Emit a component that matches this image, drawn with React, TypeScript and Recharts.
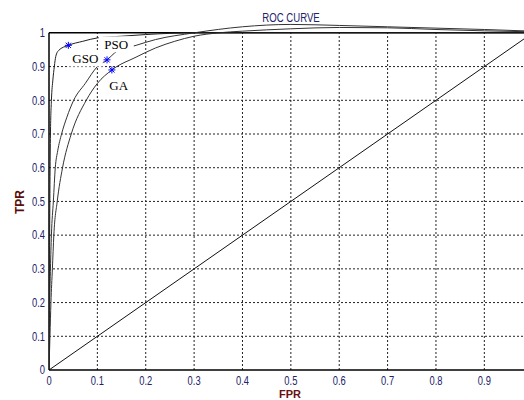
import {
  ComposedChart,
  Line,
  ReferenceLine,
  Scatter,
  XAxis,
  YAxis
} from "recharts";

// ROC curves
const gsoX = [0, 0.001, 0.002, 0.003, 0.005, 0.008, 0.011, 0.014, 0.02, 0.04, 0.07, 0.1, 0.15, 0.2, 0.3, 0.5, 0.7, 1];
const gsoY = [0, 0.3, 0.55, 0.7, 0.8, 0.86, 0.9, 0.93, 0.948, 0.963, 0.975, 0.985, 0.99, 0.995, 1.0, 1.0, 1.0, 1.0];

const psoX = [0, 0.001, 0.003, 0.005, 0.009, 0.013, 0.018, 0.026, 0.037, 0.051, 0.075, 0.1, 0.12, 0.14, 0.18, 0.22, 0.3, 0.4, 0.5, 0.6, 0.7, 0.8, 0.9, 1];
const psoY = [0, 0.15, 0.3, 0.4, 0.5, 0.6, 0.65, 0.7, 0.75, 0.8, 0.85, 0.9, 0.92, 0.945, 0.963, 0.98, 1.0, 1.018, 1.025, 1.022, 1.018, 1.014, 1.01, 1.005];

const gaX = [0, 0.002, 0.004, 0.007, 0.01, 0.017, 0.028, 0.046, 0.077, 0.1, 0.13, 0.18, 0.22, 0.26, 0.3, 0.35, 0.4, 0.5, 0.6, 0.7, 0.8, 0.9, 1];
const gaY = [0, 0.1, 0.2, 0.3, 0.4, 0.5, 0.6, 0.7, 0.8, 0.85, 0.89, 0.928, 0.955, 0.975, 0.99, 1.0, 1.005, 1.012, 1.016, 1.015, 1.01, 1.006, 1.003];

const chanceX = [0, 1];
const chanceY = [0, 1];

// operating points (blue asterisks) and their labels
const markerX = [0.04, 0.12, 0.13];
const markerY = [0.963, 0.92, 0.89];
const labelNames = ["GSO", "PSO", "GA"];
const labelX = [0.075, 0.139, 0.144];
const labelY = [0.924, 0.966, 0.845];

const xTicks = [0, 0.1, 0.2, 0.3, 0.4, 0.5, 0.6, 0.7, 0.8, 0.9];
const yTicks = [0, 0.1, 0.2, 0.3, 0.4, 0.5, 0.6, 0.7, 0.8, 0.9, 1];

const pts = (xs: number[], ys: number[]) => xs.map((x, i) => ({ x, y: ys[i] }));

const gso = pts(gsoX, gsoY);
const pso = pts(psoX, psoY);
const ga = pts(gaX, gaY);
const chance = pts(chanceX, chanceY);
const markers = pts(markerX, markerY);
const labels = labelNames.map((name, i) => ({ x: labelX[i], y: labelY[i], name }));

const sans = "'Liberation Sans', Arial, sans-serif";
const tickColor = "#22226b";
const gridDash = "2 2";

// matlab-ish condensed tick text
const XTick = (props: any) => {
  const { x, y, payload } = props;
  return (
    <g transform={`translate(${x},${y}) scale(0.78,1)`}>
      <text textAnchor="middle" dy="0.71em" fontFamily={sans} fontSize={12} fill={tickColor}>
        {payload.value}
      </text>
    </g>
  );
};

const YTick = (props: any) => {
  const { x, y, payload } = props;
  return (
    <g transform={`translate(${x},${y}) scale(0.78,1)`}>
      <text textAnchor="end" dy="0.355em" fontFamily={sans} fontSize={12} fill={tickColor}>
        {payload.value}
      </text>
    </g>
  );
};

const Asterisk = (props: any) => {
  const { cx, cy } = props;
  const r = 3.5;
  const d = 2.6;
  return (
    <g stroke="#0000ff" strokeWidth={1}>
      <line x1={cx - r} y1={cy} x2={cx + r} y2={cy} />
      <line x1={cx} y1={cy - r} x2={cx} y2={cy + r} />
      <line x1={cx - d} y1={cy - d} x2={cx + d} y2={cy + d} />
      <line x1={cx - d} y1={cy + d} x2={cx + d} y2={cy - d} />
    </g>
  );
};

const TextLabel = (props: any) => {
  const { cx, cy, payload } = props;
  const w = payload.name.length * 9 + 8;
  return (
    <g>
      <rect x={cx - w / 2} y={cy - 8} width={w} height={16} fill="#fff" />
      <text
        x={cx}
        y={cy}
        textAnchor="middle"
        dominantBaseline="central"
        fontFamily="'Liberation Serif', 'Times New Roman', serif"
        fontSize={13}
        fill="#000"
      >
        {payload.name}
      </text>
    </g>
  );
};

export default function App() {
  return (
    <div
      style={{
        position: "fixed",
        left: 0,
        top: 0,
        width: 524,
        height: 400,
        overflow: "hidden",
        background: "#fff"
      }}
    >
      <ComposedChart
        width={524}
        height={400}
        margin={{ top: 16, right: 0, left: 19, bottom: 0 }}
      >
        {yTicks.slice(1, -1).map((t) => (
          <ReferenceLine
            key={"h" + t}
            segment={[{ x: 0, y: t }, { x: 1, y: t }]}
            stroke="#222"
            strokeDasharray={gridDash}
            ifOverflow="hidden"
          />
        ))}
        {xTicks.slice(1).map((t) => (
          <ReferenceLine
            key={"v" + t}
            segment={[{ x: t, y: 0 }, { x: t, y: 1 }]}
            stroke="#222"
            strokeDasharray={gridDash}
          />
        ))}
        <XAxis
          type="number"
          dataKey="x"
          domain={[0, 0.982]}
          allowDataOverflow
          ticks={xTicks}
          height={30}
          tickSize={0}
          tickMargin={6}
          tick={XTick}
          axisLine={{ stroke: "#000", strokeWidth: 1.5 }}
          tickLine={false}
        />
        <YAxis
          type="number"
          dataKey="y"
          domain={[0, 1.05]}
          ticks={yTicks}
          width={30}
          tickSize={0}
          tickMargin={4}
          tick={YTick}
          axisLine={false}
          tickLine={false}
        />
        <ReferenceLine
          segment={[{ x: 0, y: 0 }, { x: 0, y: 1 }]}
          stroke="#000"
          strokeWidth={1.5}
        />
        <ReferenceLine
          segment={[{ x: 0, y: 1 }, { x: 1, y: 1 }]}
          stroke="#000"
          strokeWidth={1.5}
          ifOverflow="hidden"
        />
        <Line data={chance} dataKey="y" type="linear" stroke="#111" strokeWidth={1} dot={false} isAnimationActive={false} />
        <Line data={ga} dataKey="y" type="monotone" stroke="#333" strokeWidth={1} dot={false} isAnimationActive={false} />
        <Line data={pso} dataKey="y" type="monotone" stroke="#333" strokeWidth={1} dot={false} isAnimationActive={false} />
        <Line data={gso} dataKey="y" type="monotone" stroke="#222" strokeWidth={1} dot={false} isAnimationActive={false} />
        <Scatter data={labels} dataKey="y" shape={TextLabel} isAnimationActive={false} />
        <Scatter data={markers} dataKey="y" shape={Asterisk} isAnimationActive={false} />
      </ComposedChart>
      <div
        style={{
          position: "absolute",
          left: 291,
          top: 12,
          transform: "translateX(-50%) scaleX(0.8)",
          fontFamily: sans,
          fontSize: 12,
          lineHeight: "12px",
          color: tickColor,
          whiteSpace: "nowrap"
        }}
      >
        ROC CURVE
      </div>
      <div
        style={{
          position: "absolute",
          left: 20,
          top: 202,
          transform: "translate(-50%, -50%) rotate(-90deg)",
          fontFamily: sans,
          fontWeight: "bold",
          fontSize: 12,
          lineHeight: "12px",
          color: "#5a0d0d",
          whiteSpace: "nowrap"
        }}
      >
        TPR
      </div>
      <div
        style={{
          position: "absolute",
          left: 290,
          top: 389,
          transform: "translateX(-50%)",
          fontFamily: sans,
          fontWeight: "bold",
          fontSize: 11,
          lineHeight: "10px",
          color: "#6b1010",
          whiteSpace: "nowrap"
        }}
      >
        FPR
      </div>
    </div>
  );
}
